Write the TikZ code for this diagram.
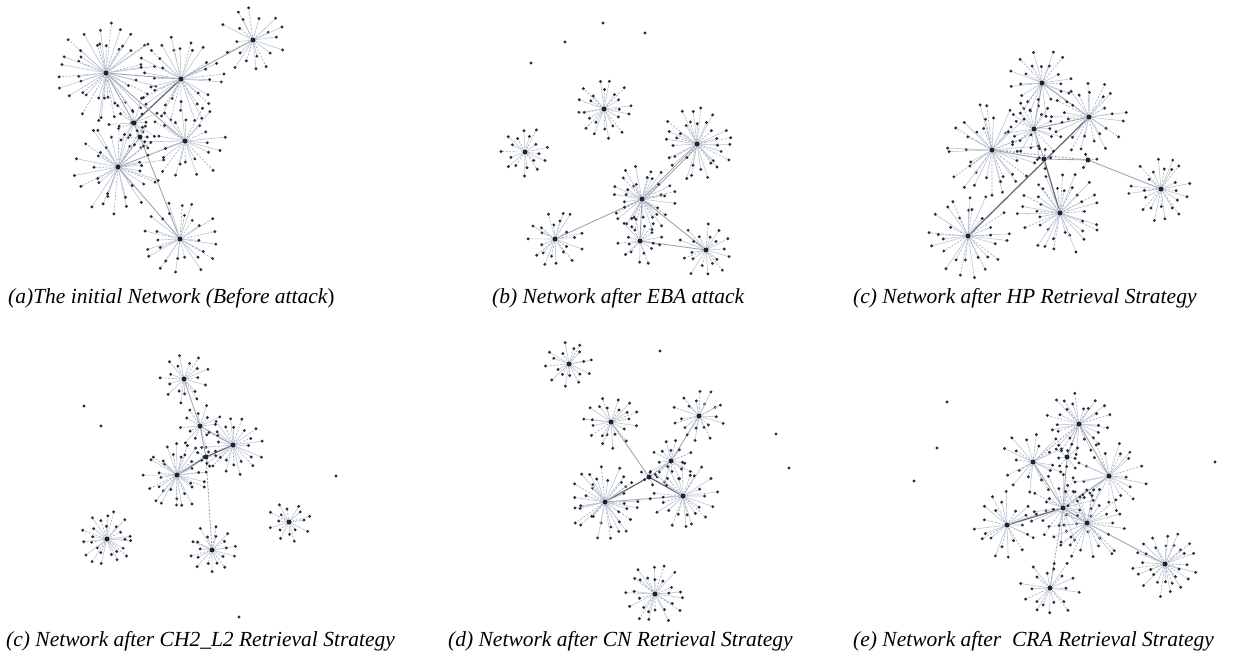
\documentclass[tikz,border=0pt]{standalone}
\usepackage{fontspec}
\setmainfont{Liberation Serif}
\definecolor{edgec}{RGB}{188,198,212}
\definecolor{dashc}{RGB}{160,168,182}
\definecolor{dotc}{RGB}{40,45,55}
\definecolor{hubc}{RGB}{28,36,52}
\definecolor{linkc}{RGB}{160,165,175}
\definecolor{dlinkc}{RGB}{105,110,122}
\tikzset{
  leafedge/.style={draw=edgec, line width=0.6pt},
  leafdash/.style={draw=dashc, line width=0.6pt, dash pattern=on 2pt off 1.5pt},
  leaf/.style={circle, fill=dotc, inner sep=0pt, minimum size=3.2pt},
  hub/.style={circle, fill=hubc, inner sep=0pt, minimum size=5pt},
  link/.style={draw=linkc, line width=0.9pt},
  darklink/.style={draw=dlinkc, line width=1.3pt},
  dashlink/.style={draw=linkc, line width=0.9pt, dash pattern=on 2pt off 1.5pt},
  capt/.style={anchor=west, inner sep=0pt, font=\fontsize{21.5}{24}\selectfont\itshape}
}
\newcommand{\netstar}[4]{%
  \pgfmathsetseed{#4}%
  \foreach \i in {1,...,#3}{%
    \pgfmathsetmacro{\ang}{\i*360/#3+10*rand}%
    \pgfmathsetmacro{\rr}{isodd(\i) ? #2*(0.82+0.18*rnd) : #2*(0.45+0.25*rnd)}%
    \pgfmathtruncatemacro{\dd}{mod(\i,3)}%
    \ifnum\dd=0
      \draw[leafdash] (#1) -- ++(\ang:\rr) node[leaf] (#1-\i) {};
    \else
      \draw[leafedge] (#1) -- ++(\ang:\rr) node[leaf] (#1-\i) {};
    \fi
  }%
  \node[hub] (#1-hub) at (#1) {};%
}
\begin{document}
\begin{tikzpicture}[x=1pt,y=-1pt]
\useasboundingbox[fill=white] (0,0) rectangle (1252,656);
% ---------------- panel (a)
\coordinate (A1) at (106,73);
\coordinate (A2) at (181,79);
\coordinate (A3) at (253,40);
\coordinate (A4) at (134,123);
\coordinate (A5) at (140,137);
\coordinate (A6) at (185,141);
\coordinate (A7) at (118,167);
\coordinate (A8) at (180,239);
\draw[link] (A3) -- (A2);
\draw[darklink] (A2) -- (A4);
\draw[link] (A1) -- (A2);
\draw[link] (A1) -- (A6);
\draw[link] (A1) -- (A4);
\draw[link] (A7) -- (A6);
\draw[link] (A5) -- (A8);
\draw[link] (A7) -- (A8);
\draw[link] (A7) -- (A5);
\draw[link] (A4) -- (A5);
\netstar{A1}{52}{44}{11}
\netstar{A2}{45}{34}{12}
\netstar{A3}{34}{20}{13}
\netstar{A4}{26}{14}{14}
\netstar{A5}{14}{6}{15}
\netstar{A6}{42}{26}{16}
\netstar{A7}{48}{36}{17}
\netstar{A8}{40}{28}{18}
% ---------------- panel (b)
\coordinate (B1) at (604,109);
\coordinate (B2) at (525,152);
\coordinate (B3) at (697,144);
\coordinate (B4) at (642,199);
\coordinate (B5) at (555,239);
\coordinate (B6) at (640,241);
\coordinate (B7) at (706,250);
\draw[link] (B4) -- (B3);
\draw[link] ([xshift=3pt]B4) -- ([xshift=3pt]B3);
\draw[link] (B4) -- (B5);
\draw[link] (B4) -- (B7);
\draw[link] (B6) -- (B7);
\draw[link] (B4) -- (B6);
\netstar{B1}{30}{24}{21}
\netstar{B2}{25}{18}{22}
\netstar{B3}{37}{34}{23}
\netstar{B4}{34}{34}{24}
\netstar{B5}{29}{22}{25}
\netstar{B6}{24}{18}{26}
\netstar{B7}{28}{20}{27}
\node[leaf] (Bi1) at (603,23) {};
\node[leaf] (Bi2) at (645,33) {};
\node[leaf] (Bi3) at (565,42) {};
\node[leaf] (Bi4) at (531,63) {};
% ---------------- panel (c) HP
\coordinate (C1) at (1042,83);
\coordinate (C2) at (1089,117);
\coordinate (C3) at (1034,129);
\coordinate (C4) at (992,150);
\coordinate (C5) at (1044,159);
\coordinate (C6) at (1088,160);
\coordinate (C7) at (1060,213);
\coordinate (C8) at (968,236);
\coordinate (C9) at (1161,189);
\draw[link] (C1) -- (C2);
\draw[darklink] (C2) -- (C8);
\draw[link] (C6) -- (C9);
\draw[link] (C1) -- (C3);
\draw[link] (C3) -- (C5);
\draw[darklink] (C5) -- (C7);
\draw[link] (C4) -- (C5);
\draw[dashlink] (C4) -- (C6);
\draw[link] (C5) -- (C6);
\draw[link] (C3) -- (C2);
\netstar{C1}{35}{24}{31}
\netstar{C2}{38}{26}{32}
\netstar{C3}{30}{22}{33}
\netstar{C4}{47}{36}{34}
\netstar{C5}{10}{4}{35}
\netstar{C6}{10}{3}{36}
\netstar{C7}{43}{36}{37}
\netstar{C8}{43}{30}{38}
\netstar{C9}{33}{24}{39}
% ---------------- panel (c) CH2_L2
\coordinate (D1) at (184,379);
\coordinate (D2) at (200,426);
\coordinate (D3) at (233,445);
\coordinate (D4) at (206,457);
\coordinate (D5) at (177,475);
\coordinate (D6) at (107,539);
\coordinate (D7) at (212,550);
\coordinate (D8) at (289,522);
\draw[link] (D1) -- (D2);
\draw[link] (D2) -- (D3);
\draw[link] (D2) -- (D4);
\draw[darklink] (D4) -- (D5);
\draw[darklink] (D4) -- (D3);
\draw[dashlink] (D4) -- (D7);
\netstar{D1}{26}{18}{41}
\netstar{D2}{23}{14}{42}
\netstar{D3}{32}{26}{43}
\netstar{D4}{10}{5}{44}
\netstar{D5}{34}{34}{45}
\netstar{D6}{28}{26}{46}
\netstar{D7}{25}{20}{47}
\netstar{D8}{22}{16}{48}
\node[leaf] (Di1) at (84,406) {};
\node[leaf] (Di2) at (101,426) {};
\node[leaf] (Di3) at (336,476) {};
\node[leaf] (Di4) at (239,617) {};
% ---------------- panel (d) CN
\coordinate (E1) at (569,364);
\coordinate (E2) at (611,422);
\coordinate (E3) at (699,416);
\coordinate (E4) at (671,461);
\coordinate (E5) at (649,477);
\coordinate (E6) at (605,502);
\coordinate (E7) at (683,496);
\coordinate (E8) at (655,594);
\draw[link] (E2) -- (E5);
\draw[link] (E3) -- (E4);
\draw[darklink] (E5) -- (E6);
\draw[darklink] (E5) -- (E7);
\draw[link] (E4) -- (E5);
\draw[link] (E6) -- (E7);
\netstar{E1}{25}{18}{51}
\netstar{E2}{28}{22}{52}
\netstar{E3}{27}{20}{53}
\netstar{E4}{23}{16}{54}
\netstar{E5}{10}{5}{55}
\netstar{E6}{37}{36}{56}
\netstar{E7}{35}{28}{57}
\netstar{E8}{30}{26}{58}
\node[leaf] (Ei1) at (660,351) {};
\node[leaf] (Ei2) at (776,434) {};
\node[leaf] (Ei3) at (789,468) {};
% ---------------- panel (e) CRA
\coordinate (F1) at (1079,424);
\coordinate (F2) at (1033,462);
\coordinate (F3) at (1067,457);
\coordinate (F4) at (1109,476);
\coordinate (F5) at (1063,508);
\coordinate (F6) at (1007,525);
\coordinate (F7) at (1087,523);
\coordinate (F8) at (1165,564);
\coordinate (F9) at (1050,588);
\draw[link] (F1) -- (F3);
\draw[link] (F1) -- (F4);
\draw[link] (F2) -- (F5);
\draw[link] (F3) -- (F5);
\draw[darklink] (F5) -- (F6);
\draw[link] (F5) -- (F7);
\draw[link] (F7) -- (F8);
\draw[dashlink] (F5) -- (F9);
\draw[link] (F4) -- (F5);
\draw[dashlink] (F2) -- (F1);
\netstar{F1}{33}{28}{61}
\netstar{F2}{33}{20}{62}
\netstar{F3}{14}{8}{63}
\netstar{F4}{38}{22}{64}
\netstar{F5}{35}{26}{65}
\netstar{F6}{34}{22}{66}
\netstar{F7}{40}{30}{67}
\netstar{F8}{33}{30}{68}
\netstar{F9}{30}{20}{69}
\node[leaf] (Fi1) at (947,402) {};
\node[leaf] (Fi2) at (937,448) {};
\node[leaf] (Fi3) at (914,481) {};
\node[leaf] (Fi4) at (1215,462) {};
% ---------------- captions
\node[capt] (capa) at (8,298) {(a)The initial Network (Before attack\upshape)};
\node[capt] (capb) at (492,298) {(b) Network after EBA attack};
\node[capt] (capc) at (853,298) {(c) Network after HP Retrieval Strategy};
\node[capt] (capd) at (6,641) {(c) Network after CH2\_L2 Retrieval Strategy};
\node[capt] (cape) at (448,641) {(d) Network after CN Retrieval Strategy};
\node[capt] (capf) at (853,641) {(e) Network after\ \ CRA Retrieval Strategy};
\end{tikzpicture}
\end{document}
